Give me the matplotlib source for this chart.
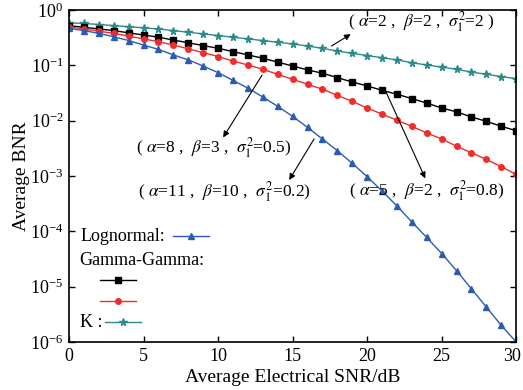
import numpy as np
import matplotlib
matplotlib.use('Agg')
import matplotlib.pyplot as plt
import matplotlib.transforms as mtransforms
from matplotlib.lines import Line2D

plt.rcParams['font.family'] = ['Liberation Serif', 'DejaVu Serif']
plt.rcParams['mathtext.fontset'] = 'stix'
plt.rcParams['font.size'] = 12

# Electrical SNR in dB, one marker per dB
snr_db = list(range(0, 31))

# K distribution (alpha=2, beta=2, sigma^2=2)
bnr_k = [0.589, 0.575, 0.550, 0.525, 0.501, 0.479, 0.457, 0.427, 0.398, 0.372,
         0.347, 0.324, 0.302, 0.282, 0.263, 0.245, 0.224, 0.204, 0.182, 0.166,
         0.151, 0.138, 0.126, 0.112, 0.102, 0.0933, 0.0851, 0.0759, 0.0692, 0.0631,
         0.0575]

# Gamma-Gamma (alpha=5, beta=2, sigma^2=0.8)
bnr_gg_black = [0.525, 0.490, 0.457, 0.427, 0.389, 0.355, 0.324, 0.288, 0.257, 0.229,
                0.204, 0.178, 0.155, 0.135, 0.115, 0.0977, 0.0832, 0.0724, 0.0603, 0.0501,
                0.0427, 0.0355, 0.0302, 0.0251, 0.0209, 0.0170, 0.0145, 0.0117, 0.00977, 0.00794,
                0.00661]

# Gamma-Gamma (alpha=8, beta=3, sigma^2=0.5)
bnr_gg_red = [0.501, 0.457, 0.417, 0.380, 0.339, 0.302, 0.269, 0.234, 0.200, 0.170,
              0.145, 0.120, 0.102, 0.0851, 0.0692, 0.0562, 0.0457, 0.0372, 0.0288, 0.0224,
              0.0170, 0.0132, 0.0102, 0.00794, 0.00603, 0.00468, 0.00347, 0.00263, 0.00200, 0.00148,
              0.00107]

# Lognormal (alpha=11, beta=10, sigma^2=0.2)
bnr_logn = [0.468, 0.427, 0.380, 0.331, 0.282, 0.234, 0.195, 0.155, 0.126, 0.0977,
            0.0741, 0.0537, 0.0389, 0.0269, 0.0182, 0.0120, 0.00759, 0.00468, 0.00288, 0.00170,
            9.77e-4, 5.37e-4, 2.88e-4, 1.48e-4, 7.76e-5, 3.98e-5, 1.95e-5, 9.12e-6, 4.27e-6, 2.00e-6,
            1.00e-6]

c_teal = '#2A8C8A'
c_red = '#F02C2C'
c_blue = '#2B5CB2'

fig = plt.figure(figsize=(5.23, 3.90), dpi=100)
ax = fig.add_axes([0.132, 0.123, 0.855, 0.851])

ax.plot(snr_db, bnr_k, color=c_teal, marker='*', ms=5.5, lw=1)
ax.plot(snr_db, bnr_gg_black, color='k', marker='s', ms=3.8, lw=1)
ax.plot(snr_db, bnr_gg_red, color=c_red, marker='o', ms=4, lw=1)
ax.plot(snr_db, bnr_logn, color=c_blue, marker='^', ms=4.2, lw=1)

ax.set_yscale('log')
ax.set_xlim(0, 30)
ax.set_ylim(1e-6, 1)
ax.set_xticks([0, 5, 10, 15, 20, 25, 30])
ax.set_yticks([1e-6, 1e-5, 1e-4, 1e-3, 1e-2, 1e-1, 1])
ax.minorticks_off()
ax.tick_params(direction='in', top=True, right=True, length=4, width=1, labelsize=13, pad=4)
for s in ax.spines.values():
    s.set_linewidth(1.2)
ax.set_xlabel('Average Electrical SNR/dB', fontsize=14, labelpad=3)
ax.set_ylabel('Average BNR', fontsize=14, labelpad=0)

# nudge the last x tick label so it stays inside the figure
fig.canvas.draw()
last = ax.get_xticklabels()[-1]
last.set_transform(last.get_transform() +
                   mtransforms.ScaledTranslation(-4 / 100, 0, fig.dpi_scale_trans))

# curve labels with arrows
lab_kw = dict(fontsize=12.5, ha='left', va='center')
arr_kw = dict(arrowstyle='-|>', color='k', lw=0.8, mutation_scale=9, shrinkA=0, shrinkB=0)

ax.text(18.7, 0.61, r'( $\alpha$=2 ,  $\beta$=2 ,  $\sigma_1^2$=2 )', **lab_kw)
ax.annotate('', xy=(18.9, 0.368), xytext=(17.6, 0.224), arrowprops=arr_kw)

ax.text(4.5, 3.3e-3, r'( $\alpha$=8 ,  $\beta$=3 ,  $\sigma_1^2$=0.5)', **lab_kw)
ax.annotate('', xy=(10.34, 5.0e-3), xytext=(12.95, 6.7e-2), arrowprops=arr_kw)

ax.text(4.6, 5.2e-4, r'( $\alpha$=11 ,  $\beta$=10 ,  $\sigma_1^2$=0.2)', **lab_kw)
ax.annotate('', xy=(14.77, 8.5e-4), xytext=(16.44, 4.7e-3), arrowprops=arr_kw)

ax.text(18.8, 5.4e-4, r'( $\alpha$=5 ,  $\beta$=2 ,  $\sigma_1^2$=0.8)', **lab_kw)
ax.annotate('', xy=(23.9, 9.1e-4), xytext=(21.27, 3.3e-2), arrowprops=arr_kw)

# hand-made legend
leg_kw = dict(fontsize=13, ha='left', va='center', transform=ax.transAxes)
ax.text(0.025, 0.319, 'Lognormal:', **leg_kw)
ax.text(0.023, 0.247, 'Gamma-Gamma:', **leg_kw)
ax.text(0.025, 0.060, 'K :', **leg_kw)

samples = [
    (0.233, 0.313, 0.319, c_blue, '^', 4.2),
    (0.069, 0.150, 0.187, 'k', 's', 3.8),
    (0.069, 0.150, 0.123, c_red, 'o', 4),
    (0.081, 0.161, 0.060, c_teal, '*', 5.5),
]
for x0, x1, yy, col, mk, ms in samples:
    ax.add_line(Line2D([x0, x1], [yy, yy], color=col, lw=1, transform=ax.transAxes))
    ax.add_line(Line2D([(x0 + x1) / 2], [yy], color=col, marker=mk, ms=ms,
                       transform=ax.transAxes))

fig.savefig('out.png', dpi=100)
